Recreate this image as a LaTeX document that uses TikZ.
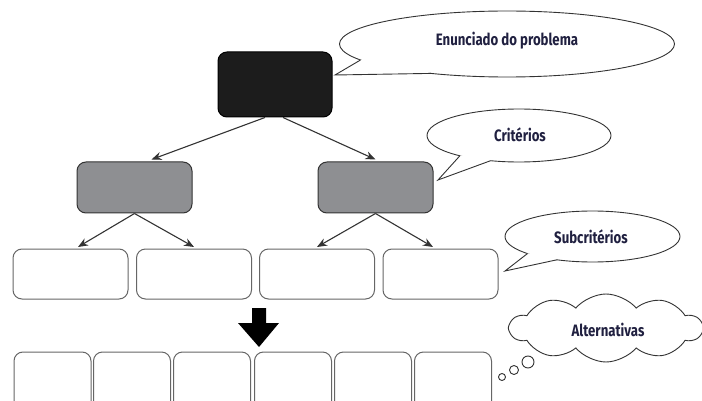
\documentclass[tikz,border=0pt]{standalone}
\usepackage{fontspec}
\newfontfamily\lblfont[FakeStretch=0.8]{Fira Sans}
\usetikzlibrary{arrows.meta,shapes.geometric,shapes.symbols,calc}
\definecolor{txtc}{HTML}{202040}
\definecolor{blackbox}{HTML}{1C1C1C}
\definecolor{graybox}{HTML}{8E8F92}
\definecolor{linec}{HTML}{333333}
\begin{document}
\begin{tikzpicture}[x=1pt,y=-1pt,
  box/.style={rounded corners=9pt, inner sep=0pt, line width=1pt},
  topbox/.style={box, draw=black, fill=blackbox, minimum width=114pt, minimum height=65pt},
  critbox/.style={box, draw=linec, fill=graybox, minimum width=115pt, minimum height=51pt},
  subbox/.style={box, draw=black!60, fill=white, minimum width=115pt, minimum height=50pt},
  altbox/.style={box, draw=black!60, fill=white, minimum width=77pt, minimum height=60pt},
  conn/.style={draw=linec, line width=1.1pt, -{Stealth[length=10pt,width=8pt]}},
  bubble/.style={ellipse, draw=black!80, fill=white, line width=0.9pt, inner sep=0pt},
  tail/.style={draw=black!80, line width=0.9pt, line join=miter},
  lbl/.style={font=\lblfont\bfseries\fontsize{16.5}{18}\selectfont, text=txtc},
  dot/.style={circle, draw=black!80, fill=white, line width=0.9pt, inner sep=0pt}
]
\clip (0,0) rectangle (702,401);
\useasboundingbox (0,0) rectangle (702,401);

% main tree
\node[topbox] (top) at (275,84.5) {};
\node[critbox] (gl) at (134.5,187.5) {};
\node[critbox] (gr) at (375.5,187.5) {};
\node[subbox] (s1) at (70.5,274) {};
\node[subbox] (s2) at (194,274) {};
\node[subbox] (s3) at (317,274) {};
\node[subbox] (s4) at (440.5,274) {};

\draw[conn] ([xshift=-10pt]top.south) -- ([xshift=17pt,yshift=2pt]gl.north);
\draw[conn] ([xshift=8pt]top.south) -- ([yshift=2pt]gr.north);
\draw[conn] (gl.south) -- ([xshift=7.5pt,yshift=1.5pt]s1.north);
\draw[conn] (gl.south) -- ([yshift=1.5pt]s2.north);
\draw[conn] (gr.south) -- ([yshift=1.5pt]s3.north);
\draw[conn] (gr.south) -- ([xshift=-7.5pt,yshift=1.5pt]s4.north);

% alternatives row
\node[altbox] (a1) at (52.5,382) {};
\node[altbox] (a2) at (132,382) {};
\node[altbox] (a3) at (212,382) {};
\node[altbox] (a4) at (293,382) {};
\node[altbox] (a5) at (373,382) {};
\node[altbox] (a6) at (453,382) {};

% big down arrow
\fill[black] (252,308) -- (266,308) -- (266,323) -- (279,323) -- (259,347) -- (238,323) -- (252,323) -- cycle;

% speech bubble 1
\node[bubble, minimum width=335pt, minimum height=66pt] (b1) at (507,44) {};
\coordinate (t1) at (335,75);
\coordinate (b1p) at ($(b1.center)+(209:167.5pt and 33pt)$);
\coordinate (b1q) at ($(b1.center)+(243:167.5pt and 33pt)$);
\fill[white] (b1p) -- (t1) -- (b1q) -- ($(b1.center)+(226:140pt and 25pt)$) -- cycle;
\draw[tail] (b1p) -- (t1) -- (b1q);
\node[lbl] (l1) at (507,41) {Enunciado do problema};

% speech bubble 2
\node[bubble, minimum width=184pt, minimum height=53pt] (b2) at (519,135.5) {};
\coordinate (t2) at (438,180);
\coordinate (b2p) at ($(b2.center)+(230:92pt and 26.5pt)$);
\coordinate (b2q) at ($(b2.center)+(252:92pt and 26.5pt)$);
\fill[white] (b2p) -- (t2) -- (b2q) -- ($(b2.center)+(240:70pt and 18pt)$) -- cycle;
\draw[tail] (b2p) -- (t2) -- (b2q);
\node[lbl] (l2) at (520,135) {Critérios};

% speech bubble 3
\node[bubble, minimum width=175pt, minimum height=51pt] (b3) at (592.5,236.5) {};
\coordinate (t3) at (505,271);
\coordinate (b3p) at ($(b3.center)+(222:87.5pt and 25.5pt)$);
\coordinate (b3q) at ($(b3.center)+(246:87.5pt and 25.5pt)$);
\fill[white] (b3p) -- (t3) -- (b3q) -- ($(b3.center)+(234:65pt and 17pt)$) -- cycle;
\draw[tail] (b3p) -- (t3) -- (b3q);
\node[lbl] (l3) at (591,237) {Subcritérios};

% thought cloud
\node[cloud, cloud puffs=10, cloud puff arc=100, aspect=2.8, draw=black!80, fill=white, line width=0.9pt,
  minimum width=192pt, minimum height=68pt, inner sep=0pt] (c1) at (606,328) {};
\node[lbl] (l4) at (608,330) {Alternativas};
\node[dot, minimum size=12pt] (d1) at (528,362) {};
\node[dot, minimum size=9pt] (d2) at (514,370) {};
\node[dot, minimum size=7pt] (d3) at (502,377) {};
\end{tikzpicture}
\end{document}
